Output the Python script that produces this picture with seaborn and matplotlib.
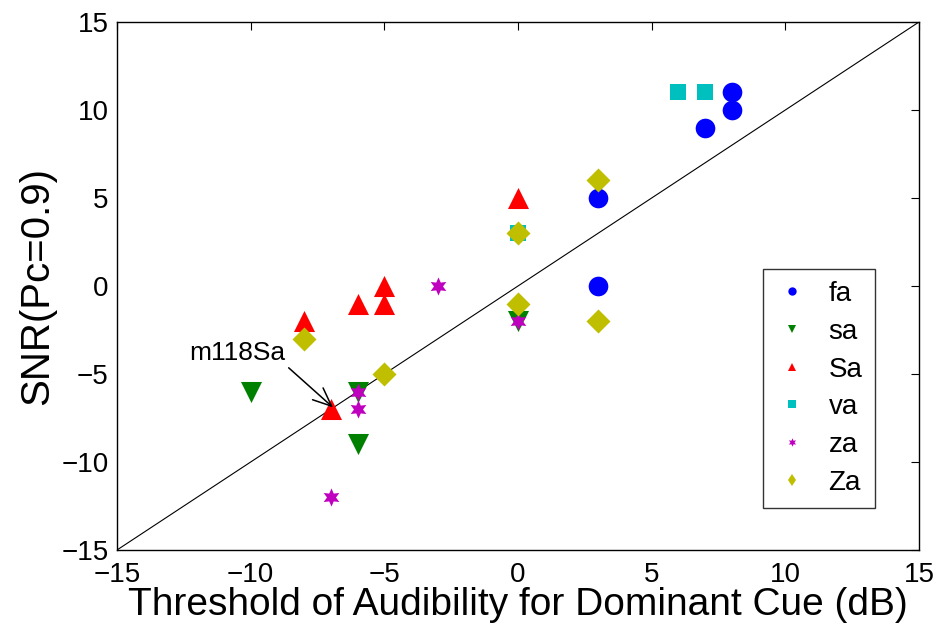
import matplotlib
matplotlib.use("Agg")
import matplotlib.pyplot as plt
import seaborn as sns
import pandas as pd
from matplotlib.lines import Line2D

sns.set_style("white")
plt.rcParams['font.family'] = ['Liberation Sans', 'DejaVu Sans']
for k in ["text.color", "axes.labelcolor", "xtick.color", "ytick.color"]:
    plt.rcParams[k] = "black"

categories = ["fa", "sa", "Sa", "va", "za", "Za"]
fa_x = [8, 8, 7, 3, 3]
fa_y = [11, 10, 9, 5, 0]
sa_x = [-10, -6, -6, 0]
sa_y = [-6, -6, -9, -2]
Sa_x = [-8, -6, -5, -5, -7, 0]
Sa_y = [-2, -1, 0, -1, -7, 5]
va_x = [6, 7, 0]
va_y = [11, 11, 3]
za_x = [-3, -6, -6, -7, 0]
za_y = [0, -6, -7, -12, -2]
Za_x = [-8, -5, 0, 0, 3, 3]
Za_y = [-3, -5, 3, -1, 6, -2]
tick_values = [-15, -10, -5, 0, 5, 10, 15]

xs = [fa_x, sa_x, Sa_x, va_x, za_x, Za_x]
ys = [fa_y, sa_y, Sa_y, va_y, za_y, Za_y]
rows = []
for c, xx, yy in zip(categories, xs, ys):
    for a, b in zip(xx, yy):
        rows.append({"x": a, "y": b, "cue": c})
df = pd.DataFrame(rows)

colors = {"fa": (0, 0, 1), "sa": (0, 0.5, 0), "Sa": (1, 0, 0),
          "va": (0, 0.75, 0.75), "za": (0.75, 0, 0.75), "Za": (0.75, 0.75, 0)}
markers = {"fa": "o", "sa": "v", "Sa": "^", "va": "s", "za": (6, 1, 0), "Za": "D"}
sizes = {"fa": 200, "sa": 230, "Sa": 230, "va": 130, "za": 170, "Za": 150}

fig = plt.figure(figsize=(9.46, 6.39), dpi=100)
ax = fig.add_axes([0.1237, 0.1393, 0.8478, 0.8263])

for c in categories:
    sub = df[df.cue == c]
    sns.scatterplot(data=sub, x="x", y="y", ax=ax, color=colors[c],
                    marker=markers[c], s=sizes[c], linewidth=0, legend=False, zorder=3)

ax.plot([-15, 15], [-15, 15], color="black", linewidth=0.8, zorder=2)

ax.set_xlim(-15, 15)
ax.set_ylim(-15, 15)
ax.set_xticks(tick_values)
ax.set_yticks(tick_values)
lbls = [str(t).replace("-", "\u2212") for t in tick_values]
ax.set_xticklabels(lbls)
ax.set_yticklabels(lbls)
ax.tick_params(direction="in", top=True, right=True, labelsize=20, length=6, width=0.8, pad=6)
ax.tick_params(axis="x", pad=9)
for sp in ax.spines.values():
    sp.set_color("black")
    sp.set_linewidth(1.0)

ax.set_xlabel("Threshold of Audibility for Dominant Cue (dB)", fontsize=28, labelpad=-1)
ax.set_ylabel("SNR(Pc=0.9)", fontsize=29, labelpad=4)

ax.annotate("m118Sa", xy=(-6.92, -6.9), xytext=(-10.5, -3.8),
            fontsize=19, ha="center", va="center",
            arrowprops=dict(arrowstyle="->,head_length=0.7,head_width=0.3", color="black", lw=1.1,
                            shrinkA=0, shrinkB=0, relpos=(1.0, 0.0)))

handles = [Line2D([], [], linestyle="none", marker=markers[c] if c != "Za" else "d",
                  color=colors[c], markersize=6, markeredgewidth=0) for c in categories]
leg = ax.legend(handles, categories, loc="lower right", bbox_to_anchor=(0.945, 0.0795),
                fontsize=20, frameon=True, fancybox=False, edgecolor="black",
                handlelength=1.2, handletextpad=0.7, borderpad=0.45, labelspacing=0.42,
                borderaxespad=0)
leg.get_frame().set_linewidth(1.0)

fig.savefig("out.png", dpi=100)
